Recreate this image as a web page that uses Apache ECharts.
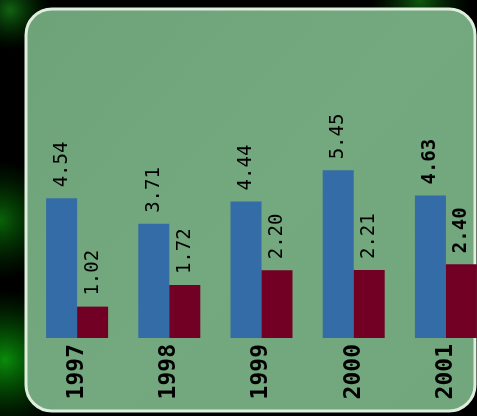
<!DOCTYPE html>
<html><head><meta charset="utf-8">
<script src="https://cdn.jsdelivr.net/npm/echarts@6/dist/echarts.min.js"></script>
<style>html,body{margin:0;padding:0;background:#000}#c{width:477px;height:416px}</style>
</head><body><div id="c"></div>
<script>
var categories = ['1997', '1998', '1999', '2000', '2001'];
var seriesA = [4.54, 3.71, 4.44, 5.45, 4.63];
var seriesB = [1.02, 1.72, 2.20, 2.21, 2.40];
var highlighted = '2001';

function mk(vals) {
  return vals.map(function (v, i) {
    var d = { value: v };
    if (categories[i] === highlighted) d.label = { fontWeight: 'bold' };
    return d;
  });
}
var chart = echarts.init(document.getElementById('c'), null, { renderer: 'canvas' });
var labelCfg = {
  show: true, position: 'top', rotate: 90, align: 'left', verticalAlign: 'middle',
  distance: 11, fontFamily: 'DejaVu Sans Mono', fontSize: 19, color: '#000',
  formatter: function (p) { return p.value.toFixed(2); }
};
chart.setOption({
  animation: false,
  backgroundColor: '#000',
  graphic: [
    { type: 'rect', z: -20, shape: { x: 0, y: 0, width: 477, height: 416 }, style: { fill: '#000' } },
    { type: 'circle', z: -19, shape: { cx: 10, cy: 10, r: 40 }, style: { fill: new echarts.graphic.RadialGradient(0.5, 0.5, 0.5, [{ offset: 0, color: 'rgba(20,110,20,0.9)' }, { offset: 1, color: 'rgba(0,60,0,0)' }]) } },
    { type: 'circle', z: -19, shape: { cx: 5, cy: 360, r: 70 }, style: { fill: new echarts.graphic.RadialGradient(0.5, 0.5, 0.5, [{ offset: 0, color: 'rgba(10,140,10,1)' }, { offset: 1, color: 'rgba(0,80,0,0)' }]) } },
    { type: 'circle', z: -19, shape: { cx: 0, cy: 220, r: 60 }, style: { fill: new echarts.graphic.RadialGradient(0.5, 0.5, 0.5, [{ offset: 0, color: 'rgba(10,110,10,0.9)' }, { offset: 1, color: 'rgba(0,60,0,0)' }]) } },
    { type: 'circle', z: -19, shape: { cx: 420, cy: 0, r: 50 }, style: { fill: new echarts.graphic.RadialGradient(0.5, 0.5, 0.5, [{ offset: 0, color: 'rgba(20,110,20,0.8)' }, { offset: 1, color: 'rgba(0,60,0,0)' }]) } },
    { type: 'rect', z: -18, shape: { x: 26, y: 9, width: 449, height: 402, r: 26 },
      style: { fill: new echarts.graphic.LinearGradient(0, 0, 1, 1, [
        { offset: 0, color: '#6ea37a' }, { offset: 0.5, color: '#74a97f' }, { offset: 1, color: '#72a77d' }]),
        stroke: '#dfeedd', lineWidth: 3 } }
  ],
  grid: { left: 31, top: 153.4, width: 461, height: 184.6, containLabel: false, outerBoundsMode: 'none' },
  xAxis: {
    type: 'category', data: categories,
    axisLine: { show: false }, axisTick: { show: false },
    axisLabel: { rotate: 90, margin: 6, fontFamily: 'DejaVu Sans Mono', fontWeight: 'bold', fontSize: 23, color: '#000' }
  },
  yAxis: { type: 'value', min: 0, max: 6, show: false, splitLine: { show: false } },
  series: [
    { type: 'bar', data: mk(seriesA), barWidth: 31, barGap: '0%', itemStyle: { color: '#336ca6' }, label: labelCfg },
    { type: 'bar', data: mk(seriesB), barWidth: 31, barGap: '0%', itemStyle: { color: '#720024' }, label: labelCfg }
  ]
});
</script></body></html>
